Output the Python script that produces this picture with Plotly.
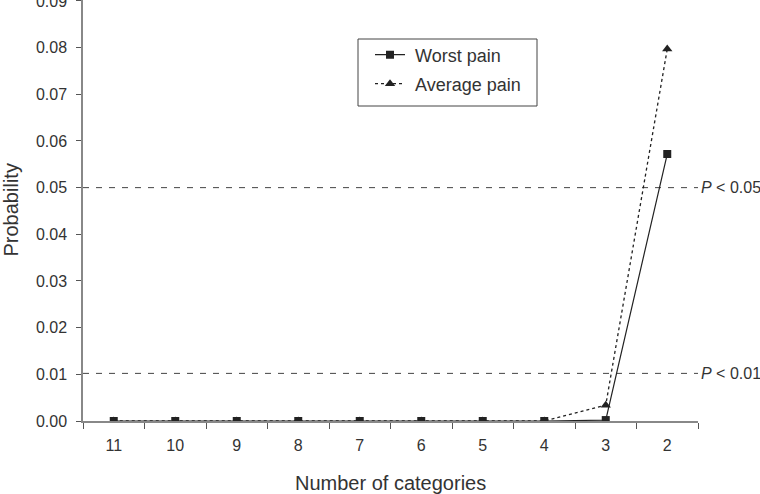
import plotly.graph_objects as go

categories = ["11", "10", "9", "8", "7", "6", "5", "4", "3", "2"]
worst_pain = [0.0, 0.0, 0.0, 0.0, 0.0, 0.0, 0.0, 0.0, 0.0002, 0.0572]
average_pain = [0.0, 0.0, 0.0, 0.0, 0.0, 0.0, 0.0, 0.0, 0.0034, 0.0797]
thresholds = [0.05, 0.0102]
threshold_labels = ["<i>P</i> < 0.05", "<i>P</i> < 0.01"]
y_ticks = [0.0, 0.01, 0.02, 0.03, 0.04, 0.05, 0.06, 0.07, 0.08, 0.09]

FONT = "Liberation Sans, Arial, sans-serif"
TXT = "#333333"
L, R, T, B = 83, 62, 0, 73
W, H = 760, 494
pw, ph = W - L - R, H - T - B

def px_x(p):
    return (p - L) / pw

def px_y(p):
    return 1 - (p - T) / ph

fig = go.Figure()
fig.add_trace(go.Scatter(
    x=categories, y=worst_pain, name="\u00a0Worst pain", mode="lines+markers",
    line=dict(color="#222222", width=1.2),
    marker=dict(symbol="square", size=8, color="#222222"),
    legend="legend",
))
fig.add_trace(go.Scatter(
    x=categories, y=average_pain, name="\u00a0Average pain", mode="lines+markers",
    line=dict(color="#222222", width=1.3, dash="dot"),
    marker=dict(symbol="triangle-up", size=9, color="#222222"),
    legend="legend2",
))

for t, lab in zip(thresholds, threshold_labels):
    fig.add_shape(type="line", xref="paper", yref="y", x0=0, x1=1, y0=t, y1=t,
                  line=dict(color="#444444", width=1, dash="6px,7px"), layer="below")
    fig.add_annotation(xref="paper", yref="y", x=1, y=t, xshift=1, xanchor="left",
                       yanchor="middle", text=lab, showarrow=False,
                       font=dict(family=FONT, size=16, color=TXT))

# legend border
fig.add_shape(type="rect", xref="paper", yref="paper",
              x0=px_x(358), x1=px_x(537), y0=px_y(106), y1=px_y(39),
              line=dict(color="#444444", width=1), fillcolor="rgba(0,0,0,0)")

fig.add_annotation(xref="paper", yref="paper", x=0, y=0.5, xshift=-(L - 10),
                   textangle=-90, xanchor="center", yanchor="middle",
                   text="Probability", showarrow=False,
                   font=dict(family=FONT, size=20, color=TXT))
fig.add_annotation(xref="paper", yref="paper", x=0.5, y=0, yshift=-(483 - (H - B)),
                   xanchor="center", yanchor="middle",
                   text="Number of categories", showarrow=False,
                   font=dict(family=FONT, size=20, color=TXT))

leg_common = dict(font=dict(family=FONT, size=18, color=TXT), bgcolor="rgba(0,0,0,0)",
                  borderwidth=0, xanchor="left", yanchor="middle")
fig.update_layout(
    width=W, height=H,
    margin=dict(l=L, r=R, t=T, b=B, autoexpand=False),
    paper_bgcolor="white", plot_bgcolor="white",
    font=dict(family=FONT, size=16, color=TXT),
    showlegend=True,
    legend=dict(x=px_x(370), y=px_y(55), **leg_common),
    legend2=dict(x=px_x(370), y=px_y(84), **leg_common),
    xaxis=dict(type="category", categoryorder="array", categoryarray=categories,
               range=[-0.5, 9.5], showline=True, linecolor="#888888", linewidth=1.5,
               ticks="outside", tickson="boundaries", ticklen=6, tickcolor="#555555",
               showgrid=False, zeroline=False, ticklabelstandoff=9, automargin=False,
               tickfont=dict(family=FONT, size=16, color=TXT)),
    yaxis=dict(range=[0, 0.0902], tickvals=y_ticks, tickformat=".2f",
               showline=True, linecolor="#888888", linewidth=1.5,
               ticks="outside", ticklen=5, tickcolor="#555555",
               showgrid=False, zeroline=False, ticklabelstandoff=6,
               ticklabeloverflow="allow", automargin=False,
               tickfont=dict(family=FONT, size=16, color=TXT)),
)

fig.write_html("out.html")
